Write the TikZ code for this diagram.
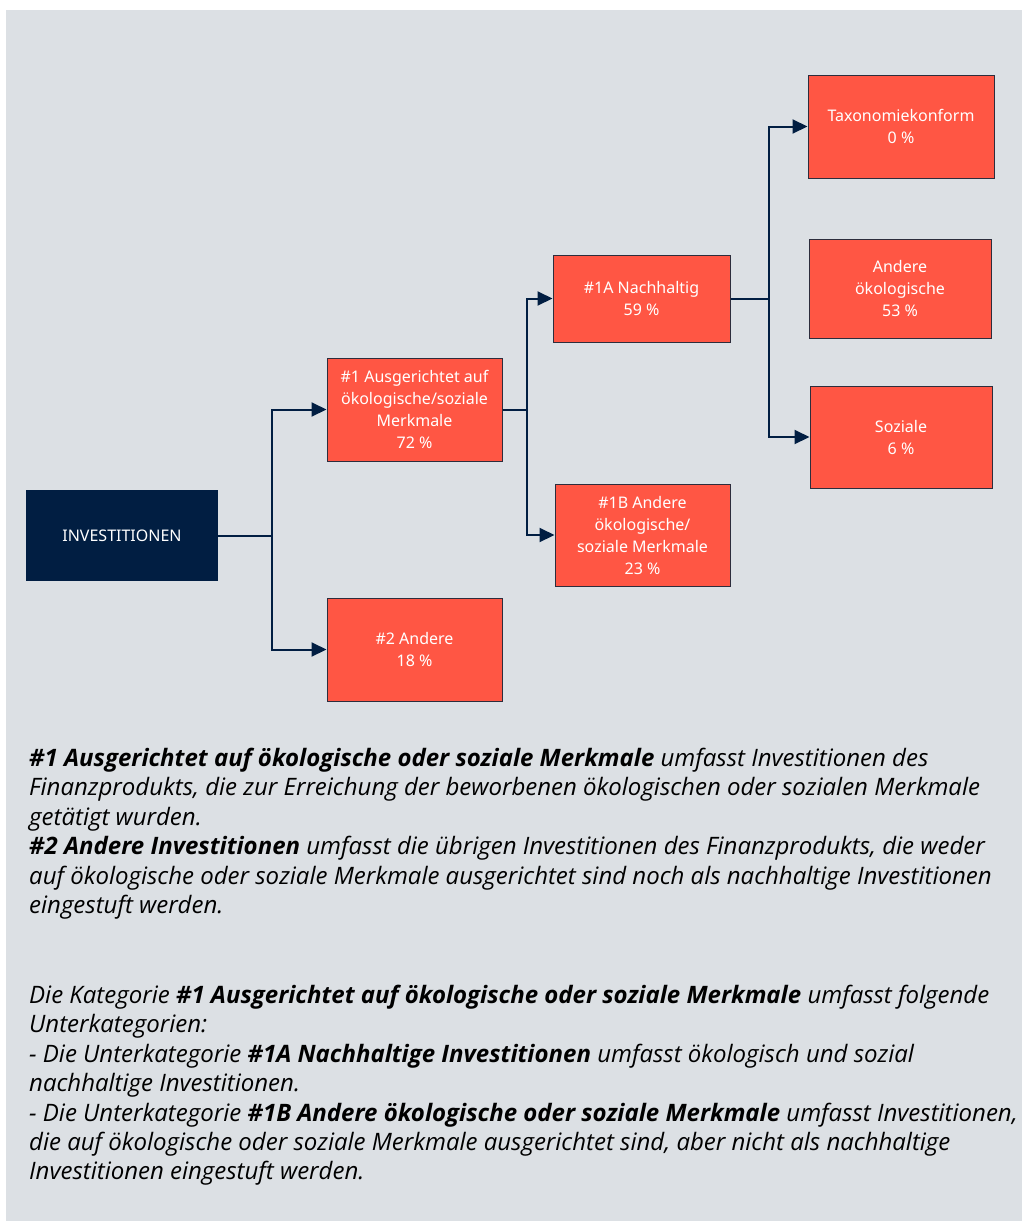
\documentclass[tikz,border=0pt]{standalone}
\usepackage{fontspec}
\setmainfont{Noto Sans}
\newfontfamily\parafont{Open Sans}
\usetikzlibrary{arrows.meta}
\definecolor{bggrey}{RGB}{220,224,228}
\definecolor{navy}{RGB}{1,30,66}
\definecolor{tomato}{RGB}{255,86,68}
\definecolor{edgegrey}{RGB}{45,45,60}
\begin{document}
\begin{tikzpicture}[x=1pt,y=-1pt,
  redbox/.style={draw=edgegrey, line width=1pt, fill=tomato, text=white, align=center, inner sep=0pt,
     font=\fontsize{16}{22}\selectfont},
  navybox/.style={fill=navy, text=white, align=center, inner sep=0pt, font=\fontsize{16}{22}\selectfont},
  conn/.style={draw=navy, line width=2pt},
  arr/.style={conn, -{Triangle[length=15pt,width=14pt]}},
  para/.style={anchor=north west, align=left, inner sep=0pt, text=black, font=\parafont\fontsize{24}{29.4}\selectfont\itshape}
]
\useasboundingbox (0,0) rectangle (1022,1221);
\fill[bggrey] (6,10) rectangle (1022,1221);

\node[navybox, minimum width=192pt, minimum height=91pt] (inv) at (122,535.5) {INVESTITIONEN};
\node[redbox, minimum width=175pt, minimum height=103pt] (n1) at (414.5,409.5) {\#1 Ausgerichtet auf\\ökologische/soziale\\Merkmale\\72 \%};
\node[redbox, minimum width=175pt, minimum height=103pt] (n2) at (414.5,649.5) {\#2 Andere\\18 \%};
\node[redbox, minimum width=177pt, minimum height=87pt] (n1a) at (641.5,298.5) {\#1A Nachhaltig\\59 \%};
\node[redbox, minimum width=175pt, minimum height=102pt] (n1b) at (642.5,535) {\#1B Andere\\ökologische/\\soziale Merkmale\\23 \%};
\node[redbox, minimum width=186pt, minimum height=103pt] (tax) at (901,126.5) {Taxonomiekonform\\0 \%};
\node[redbox, minimum width=182pt, minimum height=99pt] (oek) at (900,288.5) {Andere\\ökologische\\53 \%};
\node[redbox, minimum width=182pt, minimum height=102pt] (soz) at (901,437) {Soziale\\6 \%};

\coordinate (j1) at (272,535.5);
\coordinate (j2) at (527,409.5);
\coordinate (j3) at (769,298.5);
\draw[conn] (inv.east) -- (j1);
\draw[arr] (j1) |- (n1.west);
\draw[arr] (j1) |- (n2.west);
\draw[conn] (n1.east) -- (j2);
\draw[arr] (j2) |- (n1a.west);
\draw[arr] (j2) |- (n1b.west);
\draw[conn] (n1a.east) -- (j3);
\draw[arr] (j3) |- (tax.west);
\draw[arr] (j3) |- (soz.west);

\node[para] (t1) at (29,748) {\textbf{\#1 Ausgerichtet auf ökologische oder soziale Merkmale} umfasst Investitionen des\\
Finanzprodukts, die zur Erreichung der beworbenen ökologischen oder sozialen Merkmale\\
getätigt wurden.\\
\textbf{\#2 Andere Investitionen} umfasst die übrigen Investitionen des Finanzprodukts, die weder\\
auf ökologische oder soziale Merkmale ausgerichtet sind noch als nachhaltige Investitionen\\
eingestuft werden.};
\node[para] (t2) at (29,985) {Die Kategorie \textbf{\#1 Ausgerichtet auf ökologische oder soziale Merkmale} umfasst folgende\\
Unterkategorien:\\
- Die Unterkategorie \textbf{\#1A Nachhaltige Investitionen} umfasst ökologisch und sozial\\
nachhaltige Investitionen.\\
- Die Unterkategorie \textbf{\#1B Andere ökologische oder soziale Merkmale} umfasst Investitionen,\\
die auf ökologische oder soziale Merkmale ausgerichtet sind, aber nicht als nachhaltige\\
Investitionen eingestuft werden.};
\end{tikzpicture}
\end{document}
